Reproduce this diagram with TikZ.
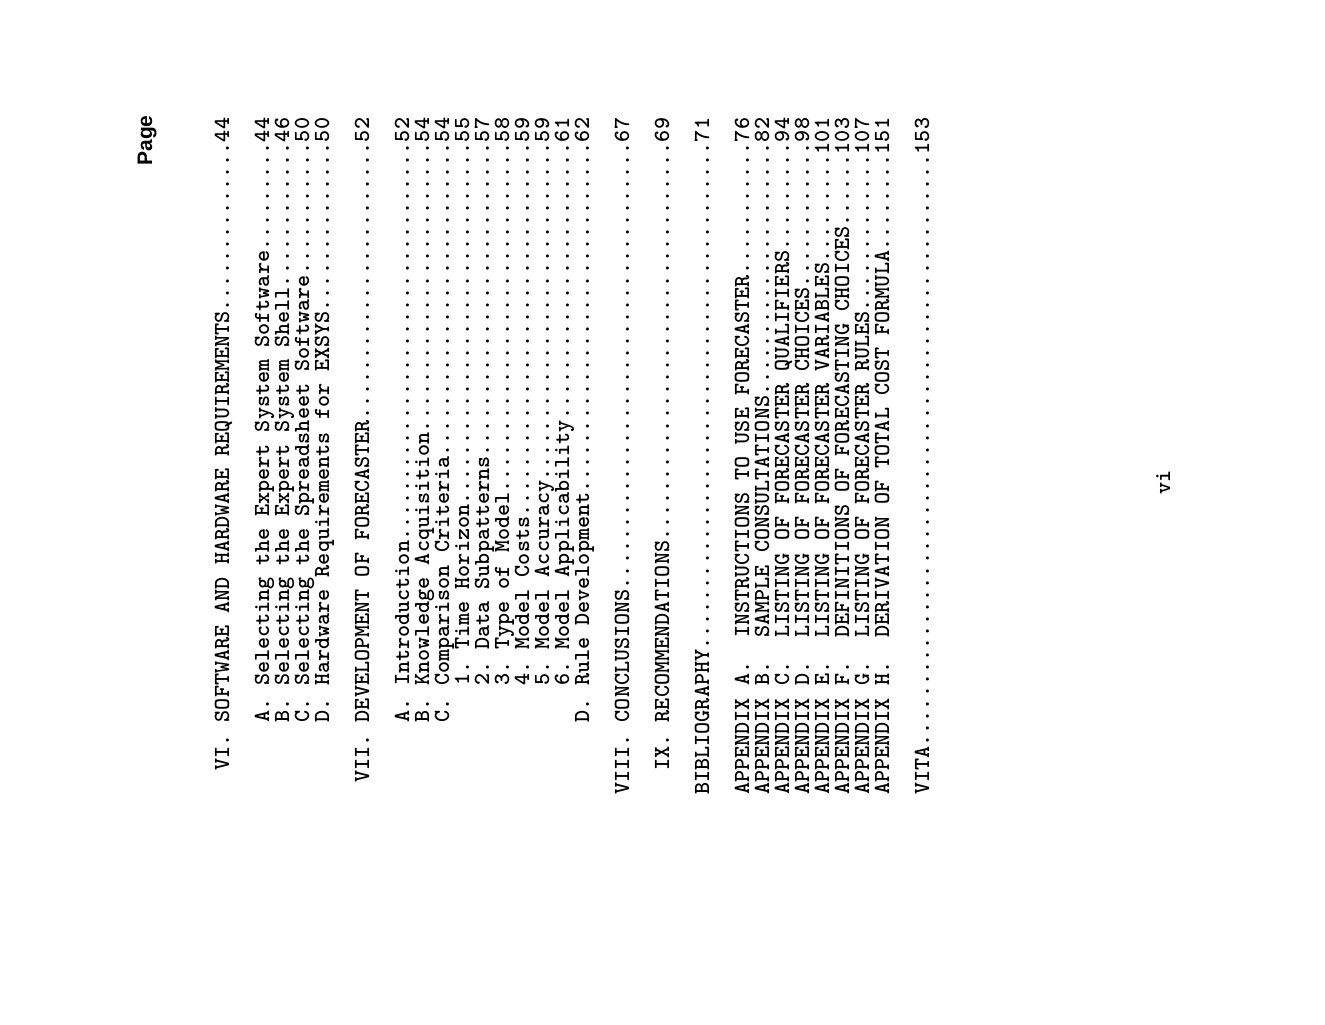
\documentclass[tikz,border=0pt]{standalone}
\usepackage{fontspec}
\setsansfont{Liberation Sans}
\begin{document}
\begin{tikzpicture}[x=0.5pt,y=-0.5pt]
\tikzset{tocline/.style={rotate=90,anchor=base west,inner sep=0pt,font=\ttfamily\bfseries\fontsize{11.51pt}{12pt}\selectfont}}
\newcommand{\ind}[1]{\hspace*{\dimexpr 0.525em*#1\relax}}
\newcommand{\dd}[1]{\foreach\i in {1,...,#1}{.}}
\useasboundingbox (0,0) rectangle (1325,1024);
\def\x#1{229+20*#1}
\node[tocline] (l0) at ({\x{0}},795) {\ind{2}VI.\ind{1}SOFTWARE\ind{1}AND\ind{1}HARDWARE\ind{1}REQUIREMENTS\dd{14}44};
\node[tocline] (l2) at ({\x{2}},795) {\ind{6}A.\ind{1}Selecting\ind{1}the\ind{1}Expert\ind{1}System\ind{1}Software\dd{9}44};
\node[tocline] (l3) at ({\x{3}},795) {\ind{6}B.\ind{1}Selecting\ind{1}the\ind{1}Expert\ind{1}System\ind{1}Shell\dd{12}46};
\node[tocline] (l4) at ({\x{4}},795) {\ind{6}C.\ind{1}Selecting\ind{1}the\ind{1}Spreadsheet\ind{1}Software\dd{11}50};
\node[tocline] (l5) at ({\x{5}},795) {\ind{6}D.\ind{1}Hardware\ind{1}Requirements\ind{1}for\ind{1}EXSYS\dd{14}50};
\node[tocline] (l7) at ({\x{7}},795) {\ind{1}VII.\ind{1}DEVELOPMENT\ind{1}OF\ind{1}FORECASTER\dd{23}52};
\node[tocline] (l9) at ({\x{9}},795) {\ind{6}A.\ind{1}Introduction\dd{33}52};
\node[tocline] (l10) at ({\x{10}},795) {\ind{6}B.\ind{1}Knowledge\ind{1}Acquisition\dd{24}54};
\node[tocline] (l11) at ({\x{11}},795) {\ind{6}C.\ind{1}Comparison\ind{1}Criteria\dd{26}54};
\node[tocline] (l12) at ({\x{12}},795) {\ind{9}1.\ind{1}Time\ind{1}Horizon\dd{30}55};
\node[tocline] (l13) at ({\x{13}},795) {\ind{9}2.\ind{1}Data\ind{1}Subpatterns\dd{26}57};
\node[tocline] (l14) at ({\x{14}},795) {\ind{9}3.\ind{1}Type\ind{1}of\ind{1}Model\dd{29}58};
\node[tocline] (l15) at ({\x{15}},795) {\ind{9}4.\ind{1}Model\ind{1}Costs\dd{31}59};
\node[tocline] (l16) at ({\x{16}},795) {\ind{9}5.\ind{1}Model\ind{1}Accuracy\dd{28}59};
\node[tocline] (l17) at ({\x{17}},795) {\ind{9}6.\ind{1}Model\ind{1}Applicability\dd{23}61};
\node[tocline] (l18) at ({\x{18}},795) {\ind{6}D.\ind{1}Rule\ind{1}Development\dd{29}62};
\node[tocline] (l20) at ({\x{20}},795) {VIII.\ind{1}CONCLUSIONS\dd{37}67};
\node[tocline] (l22) at ({\x{22}},795) {\ind{2}IX.\ind{1}RECOMMENDATIONS\dd{33}69};
\node[tocline] (l24) at ({\x{24}},795) {BIBLIOGRAPHY\dd{42}71};
\node[tocline] (l26) at ({\x{26}},795) {APPENDIX\ind{1}A.\ind{2}INSTRUCTIONS\ind{1}TO\ind{1}USE\ind{1}FORECASTER\dd{11}76};
\node[tocline] (l27) at ({\x{27}},795) {APPENDIX\ind{1}B.\ind{2}SAMPLE\ind{1}CONSULTATIONS\dd{21}82};
\node[tocline] (l28) at ({\x{28}},795) {APPENDIX\ind{1}C.\ind{2}LISTING\ind{1}OF\ind{1}FORECASTER\ind{1}QUALIFIERS\dd{9}94};
\node[tocline] (l29) at ({\x{29}},795) {APPENDIX\ind{1}D.\ind{2}LISTING\ind{1}OF\ind{1}FORECASTER\ind{1}CHOICES\dd{12}98};
\node[tocline] (l30) at ({\x{30}},795) {APPENDIX\ind{1}E.\ind{2}LISTING\ind{1}OF\ind{1}FORECASTER\ind{1}VARIABLES\dd{9}101};
\node[tocline] (l31) at ({\x{31}},795) {APPENDIX\ind{1}F.\ind{2}DEFINITIONS\ind{1}OF\ind{1}FORECASTING\ind{1}CHOICES\dd{6}103};
\node[tocline] (l32) at ({\x{32}},795) {APPENDIX\ind{1}G.\ind{2}LISTING\ind{1}OF\ind{1}FORECASTER\ind{1}RULES\dd{13}107};
\node[tocline] (l33) at ({\x{33}},795) {APPENDIX\ind{1}H.\ind{2}DERIVATION\ind{1}OF\ind{1}TOTAL\ind{1}COST\ind{1}FORMULA\dd{8}151};
\node[tocline] (l35) at ({\x{35}},795) {VITA\dd{49}153};
\node[tocline,anchor=base east,font=\sffamily\bfseries\fontsize{10.5pt}{12pt}\selectfont] (pg) at (152,115) {Page};
\node[tocline,anchor=base] (vi) at (1170,482) {vi};
\end{tikzpicture}
\end{document}
